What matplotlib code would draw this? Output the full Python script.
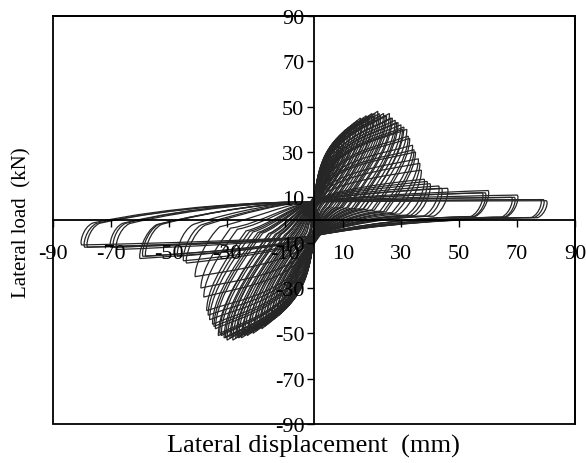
import numpy as np
import matplotlib
matplotlib.use("Agg")
import matplotlib.pyplot as plt
from matplotlib.path import Path
from matplotlib.patches import PathPatch, Rectangle

# peak points of each load cycle (mm, kN)
disp_pos = [2, 3, 4, 5, 6, 7, 8, 9, 10, 11, 12, 13, 14, 15, 16, 17, 18, 19, 20, 21,
            22, 23, 24, 25, 26, 27, 28, 29, 30, 31, 32, 33, 34, 35, 36, 37, 38, 40,
            43, 46, 58, 60, 68, 70, 78, 80]
load_pos = [10, 15, 20, 24, 28, 31, 33, 36, 38, 40, 41, 42, 43, 44, 45, 45, 46, 46, 47, 47,
            48, 46, 47, 46, 47, 45, 44, 43, 42, 41, 40, 36, 33, 30, 27, 22, 18, 16,
            15, 14, 12, 13, 10, 11, 9, 8.5]
disp_neg = [-2, -3, -4, -5, -6, -7, -8, -9, -10, -11, -12, -13, -14, -15, -16, -17, -18, -19,
            -20, -21, -22, -23, -24, -25, -26, -27, -28, -29, -30, -31, -32, -33, -34, -35,
            -36, -37, -38, -41, -44, -47, -58, -60, -68, -70, -78, -80]
load_neg = [-10, -15, -20, -24, -28, -31, -34, -36, -38, -40, -42, -43, -44, -45, -46, -47, -48, -48,
            -49, -50, -50, -51, -51, -52, -52, -52, -53, -52, -53, -52, -51, -51, -48, -46,
            -44, -40, -34, -25, -19, -16, -16, -17, -13, -12, -12, -11]

# repeated cycles at the same amplitudes
disp_pos2 = [4.5, 6.5, 8.5, 10.5, 12.5, 14.5, 16.5, 18.5, 20.5, 22.5, 24.5, 26.5, 28.5,
             30.5, 32.5, 34.5, 36.5, 39, 44, 59, 69, 79]
load_pos2 = [21, 27, 33, 37, 40, 42, 44, 45, 46, 47, 46, 45, 43,
             40, 37, 31, 25, 17, 14, 12, 10, 9]
disp_neg2 = [-4.5, -6.5, -8.5, -10.5, -12.5, -14.5, -16.5, -18.5, -20.5, -22.5, -24.5, -26.5, -28.5,
             -30.5, -32.5, -34.5, -36.5, -39, -45, -59, -69, -79]
load_neg2 = [-21, -28, -33, -37, -41, -43, -45, -47, -48, -49, -50, -51, -51,
             -52, -50, -47, -42, -30, -18, -16, -12, -12]

ticks = list(range(-90, 91, 20))


def half_cycle(dp, pp, y0, y1):
    # loading from (0, y0) to the peak (dp, pp), unloading, return to (0, y1)
    s = 1.0 if dp > 0 else -1.0
    u = pp / 2.5
    w = min(max((30 - abs(pp)) / 20, 0), 1)
    frac = 0.75 * (1 - w) + 0.35 * w
    ex, ey = dp - 0.85 * u, 0.12 * pp
    if s > 0:
        back = [(0.65 * ex, 0.8 * ey), (0.25 * ex, 0.3 * y1), (0, y1)]
    else:
        back = [(0.65 * ex, 0.8 * y1 * w + ey * 0.5 * (1 - w)), (0.25 * ex, y1), (0, y1)]
    return [
        (0.1 * dp, y0 + frac * (pp - y0)), (0.7 * dp, pp - 0.15 * (pp - y0)), (dp, pp),
        (dp + s * w, pp - (1 - w) * 0.3 * pp), (dp - (1 - w) * 0.6 * u, 0.3 * pp), (ex, ey),
    ] + back


def cycle_path(dp, pp, dn, pn):
    ys = 5.0 + 3.0 * min(dp, 40) / 40
    yr = 3.0 + 4.0 * min(-dn, 40) / 40
    verts = [(0, ys)] + half_cycle(dp, pp, ys, -yr) + half_cycle(dn, pn, -yr, ys)
    codes = [Path.MOVETO] + [Path.CURVE4] * (len(verts) - 1)
    return Path(verts, codes)


plt.rcParams['font.family'] = ['Liberation Serif', 'DejaVu Serif']
plt.rcParams['axes.unicode_minus'] = False

fig = plt.figure(figsize=(5.86, 4.64), dpi=100)
ax = fig.add_axes([53 / 586, 1 - 425 / 464, 522 / 586, 408 / 464])

cycles = list(zip(disp_pos, load_pos, disp_neg, load_neg)) + \
    list(zip(disp_pos2, load_pos2, disp_neg2, load_neg2))
for dp, pp, dn, pn in cycles:
    ax.add_patch(PathPatch(cycle_path(dp, pp, dn, pn), fill=False,
                           edgecolor='#262626', lw=0.9))

ax.set_xlim(-90, 90)
ax.set_ylim(-90, 90)
ax.spines['left'].set_position(('data', 0))
ax.spines['bottom'].set_position(('data', 0))
for s in ax.spines.values():
    s.set_linewidth(1.3)
ax.add_patch(Rectangle((0, 0), 1, 1, transform=ax.transAxes, fill=False,
                       lw=1.3, ec='black', clip_on=False, zorder=3))

ax.set_xticks(ticks)
ax.set_yticks(ticks)
ax.tick_params(axis='both', direction='out', length=5, width=1, labelsize=16)
ax.tick_params(axis='x', pad=12)
ax.tick_params(axis='y', pad=2)

fig.text(0.535, 0.037, 'Lateral displacement  (mm)', ha='center', va='center', fontsize=19)
fig.text(0.038, 0.52, 'Lateral load  (kN)', ha='center', va='center', rotation=90, fontsize=15)

fig.savefig('out.png', dpi=100)
